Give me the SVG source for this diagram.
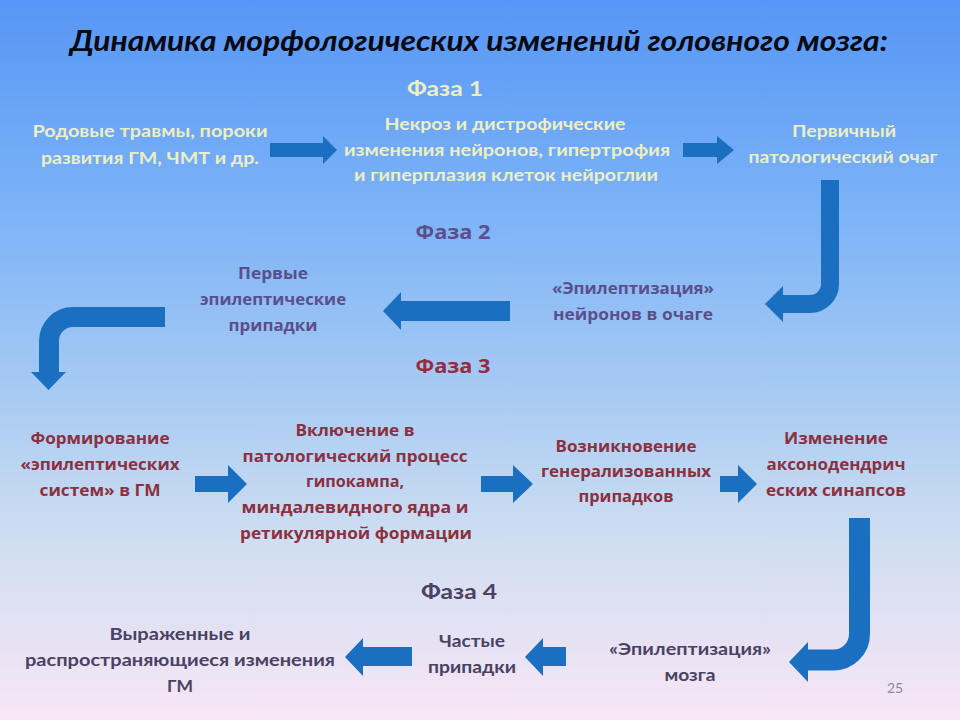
<svg xmlns="http://www.w3.org/2000/svg" width="960" height="720" viewBox="0 0 960 720">
<defs>
<linearGradient id="bg" x1="0" y1="0" x2="0" y2="1">
<stop offset="0" stop-color="#5696f5"/>
<stop offset="0.3" stop-color="#7db3f7"/>
<stop offset="0.55" stop-color="#a8cbf3"/>
<stop offset="0.75" stop-color="#cfdef1"/>
<stop offset="1" stop-color="#f8e6f6"/>
</linearGradient>
</defs>
<style>
.t{font-weight:bold;text-anchor:middle}
.c{font-family:Lato,"Open Sans","Liberation Sans",sans-serif;font-size:17px}
.o{font-family:"Open Sans","Liberation Sans",sans-serif;font-size:16px}
.ph{font-size:20px}
.p1{fill:#ecefc4}
.p2{fill:#5a4f8c}
.p3{fill:#8b3040}
.p4{fill:#4a4262}
.arr{fill:#1b6fc1}
.bend{fill:none;stroke:#1b6fc1}
</style>
<rect width="960" height="720" fill="url(#bg)"/>
<text x="479" y="51" font-family="Lato,'Open Sans',sans-serif" font-size="28" font-weight="bold" font-style="italic" text-anchor="middle" fill="#0a0a14" textLength="818" lengthAdjust="spacingAndGlyphs">Динамика морфологических изменений головного мозга:</text>

<g id="phase1-label"><text class="t c ph p1" x="445" y="96" textLength="76" lengthAdjust="spacingAndGlyphs">Фаза 1</text></g>
<g id="n-rodovye">
<text class="t c p1" x="150" y="137" textLength="235" lengthAdjust="spacingAndGlyphs">Родовые травмы, пороки</text>
<text class="t c p1" x="150" y="164" textLength="218" lengthAdjust="spacingAndGlyphs">развития ГМ, ЧМТ и др.</text>
</g>
<g id="n-nekroz">
<text class="t c p1" x="505" y="130" textLength="241" lengthAdjust="spacingAndGlyphs">Некроз и дистрофические</text>
<text class="t c p1" x="507" y="156" textLength="326" lengthAdjust="spacingAndGlyphs">изменения нейронов, гипертрофия</text>
<text class="t c p1" x="506" y="181" textLength="304" lengthAdjust="spacingAndGlyphs">и гиперплазия клеток нейроглии</text>
</g>
<g id="n-ochag">
<text class="t c p1" x="844" y="137" textLength="104" lengthAdjust="spacingAndGlyphs">Первичный</text>
<text class="t c p1" x="843" y="163" textLength="189" lengthAdjust="spacingAndGlyphs">патологический очаг</text>
</g>

<g id="phase2-label"><text class="t o ph p2" x="453" y="239" textLength="75" lengthAdjust="spacingAndGlyphs">Фаза 2</text></g>
<g id="n-pervye">
<text class="t o p2" x="273" y="279" textLength="70" lengthAdjust="spacingAndGlyphs">Первые</text>
<text class="t o p2" x="273" y="305" textLength="146" lengthAdjust="spacingAndGlyphs">эпилептические</text>
<text class="t o p2" x="273" y="331" textLength="89" lengthAdjust="spacingAndGlyphs">припадки</text>
</g>
<g id="n-epil-neurons">
<text class="t o p2" x="633" y="294" textLength="162" lengthAdjust="spacingAndGlyphs">«Эпилептизация»</text>
<text class="t o p2" x="633" y="320" textLength="160" lengthAdjust="spacingAndGlyphs">нейронов  в очаге</text>
</g>

<g id="phase3-label"><text class="t o ph" fill="#982a3c" x="453" y="373" textLength="75" lengthAdjust="spacingAndGlyphs">Фаза 3</text></g>
<g id="n-formirovanie">
<text class="t o p3" x="100" y="444" textLength="139" lengthAdjust="spacingAndGlyphs">Формирование</text>
<text class="t o p3" x="100" y="470" textLength="159" lengthAdjust="spacingAndGlyphs">«эпилептических</text>
<text class="t o p3" x="100" y="496" textLength="121" lengthAdjust="spacingAndGlyphs">систем» в ГМ</text>
</g>
<g id="n-vklyuchenie">
<text class="t o p3" x="355" y="436" textLength="119" lengthAdjust="spacingAndGlyphs">Включение в</text>
<text class="t o p3" x="355" y="462" textLength="225" lengthAdjust="spacingAndGlyphs">патологический процесс</text>
<text class="t o p3" x="355" y="487" textLength="98" lengthAdjust="spacingAndGlyphs">гипокампа,</text>
<text class="t o p3" x="355" y="513" textLength="227" lengthAdjust="spacingAndGlyphs">миндалевидного ядра и</text>
<text class="t o p3" x="356" y="539" textLength="232" lengthAdjust="spacingAndGlyphs">ретикулярной формации</text>
</g>
<g id="n-vozniknovenie">
<text class="t o p3" x="626" y="452" textLength="141" lengthAdjust="spacingAndGlyphs">Возникновение</text>
<text class="t o p3" x="626" y="477" textLength="170" lengthAdjust="spacingAndGlyphs">генерализованных</text>
<text class="t o p3" x="626" y="502" textLength="95" lengthAdjust="spacingAndGlyphs">припадков</text>
</g>
<g id="n-izmenenie">
<text class="t o p3" x="836" y="444" textLength="104" lengthAdjust="spacingAndGlyphs">Изменение</text>
<text class="t o p3" x="836" y="470" textLength="139" lengthAdjust="spacingAndGlyphs">аксонодендрич</text>
<text class="t o p3" x="836" y="496" textLength="140" lengthAdjust="spacingAndGlyphs">еских синапсов</text>
</g>

<g id="phase4-label"><text class="t c ph p4" x="459" y="599" textLength="76" lengthAdjust="spacingAndGlyphs">Фаза 4</text></g>
<g id="n-vyrazhennye">
<text class="t c p4" x="180" y="640" textLength="141" lengthAdjust="spacingAndGlyphs">Выраженные  и</text>
<text class="t c p4" x="180" y="666" textLength="310" lengthAdjust="spacingAndGlyphs">распространяющиеся  изменения</text>
<text class="t c p4" x="180" y="692" textLength="26" lengthAdjust="spacingAndGlyphs">ГМ</text>
</g>
<g id="n-chastye">
<text class="t c p4" x="472" y="647" textLength="66" lengthAdjust="spacingAndGlyphs">Частые</text>
<text class="t c p4" x="472" y="673" textLength="88" lengthAdjust="spacingAndGlyphs">припадки</text>
</g>
<g id="n-epil-brain">
<text class="t c p4" x="690" y="655" textLength="162" lengthAdjust="spacingAndGlyphs">«Эпилептизация»</text>
<text class="t c p4" x="690" y="681" textLength="51" lengthAdjust="spacingAndGlyphs">мозга</text>
</g>

<text x="895" y="693" font-family="Lato,'Liberation Sans',sans-serif" font-size="14" text-anchor="middle" fill="#8a8a9c">25</text>

<g id="connectors">
<polygon class="arr" points="270,143 323,143 323,136 337,150 323,164 323,157 270,157"/>
<polygon class="arr" points="683,143 717,143 717,136 734,150 717,164 717,157 683,157"/>
<path class="bend" stroke-width="18" d="M830,180 V284 A20,20 0 0 1 810,304 H782"/>
<polygon class="arr" points="783,286 783,322 765,304"/>
<polygon class="arr" points="510,301 401,301 401,292 383,311 401,330 401,321 510,321"/>
<path class="bend" stroke-width="20" d="M165,317 H73 A24,24 0 0 0 49,341 V373"/>
<polygon class="arr" points="31,372 66,372 48.5,390"/>
<polygon class="arr" points="195,476 228,476 228,465 247,484 228,503 228,492 195,492"/>
<polygon class="arr" points="481,476 513,476 513,465 533,484 513,503 513,492 481,492"/>
<polygon class="arr" points="720,476 738,476 738,465 757,484 738,503 738,492 720,492"/>
<path class="bend" stroke-width="21" d="M859.5,518 V634 A26,26 0 0 1 833.5,660 H807"/>
<polygon class="arr" points="808,642 808,682 789,662"/>
<polygon class="arr" points="566,647 543,647 543,638 525,657 543,676 543,666 566,666"/>
<polygon class="arr" points="412,647 363,647 363,638 345,657 363,676 363,666 412,666"/>
</g>
</svg>
